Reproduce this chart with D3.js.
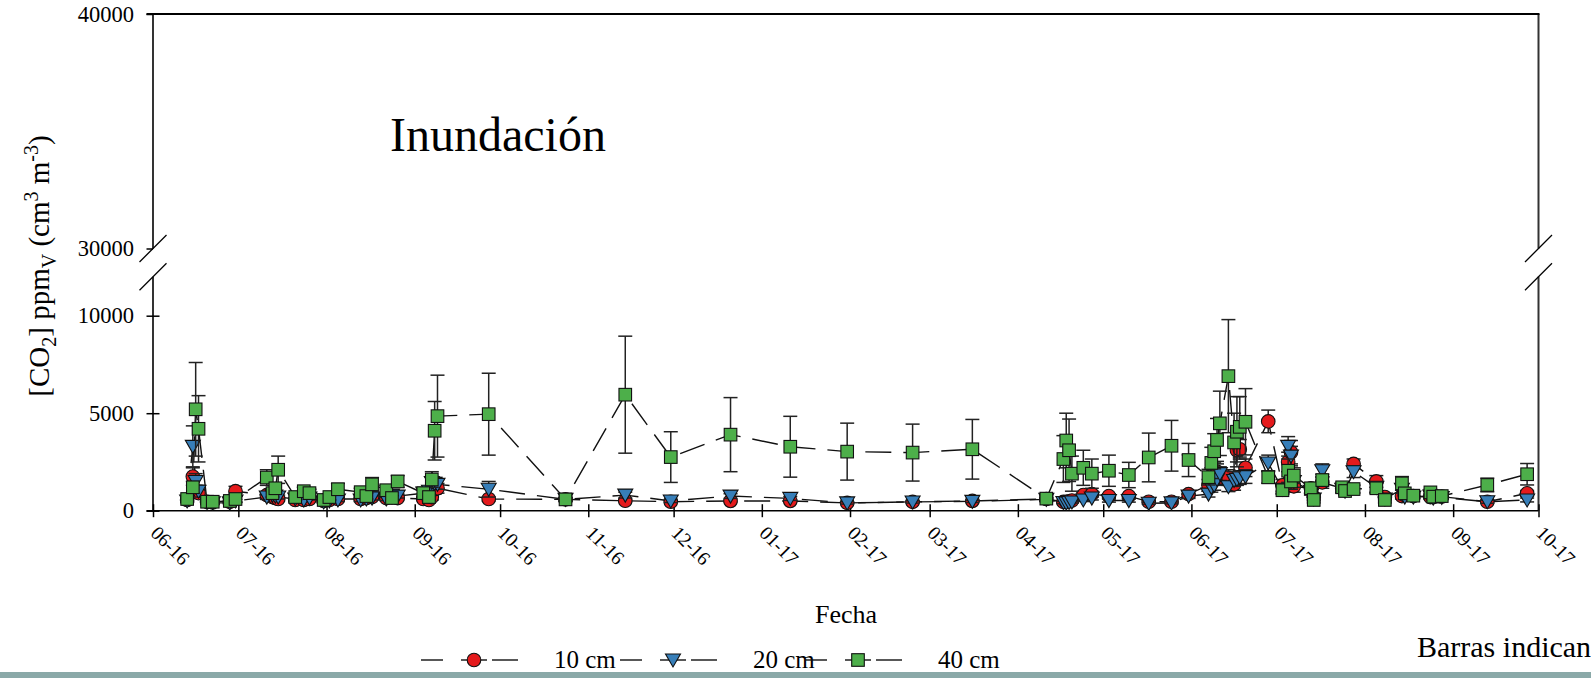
<!DOCTYPE html>
<html><head><meta charset="utf-8">
<script src="https://cdn.jsdelivr.net/npm/d3@7"></script>
<style>
body{margin:0;background:#fff;overflow:hidden}
svg text{font-family:"Liberation Serif","Times New Roman",serif;fill:#000}
</style>
</head><body><svg id="c" width="1591" height="678"></svg>
<script>
// ---------- data ----------
const dates = ["2016-06-13","2016-06-15","2016-06-16","2016-06-17","2016-06-20","2016-06-22","2016-06-28","2016-06-30",
"2016-07-11","2016-07-13","2016-07-14","2016-07-15","2016-07-21","2016-07-24","2016-07-26","2016-07-31",
"2016-08-02","2016-08-05","2016-08-13","2016-08-15","2016-08-17","2016-08-22","2016-08-24","2016-08-26",
"2016-09-04","2016-09-06","2016-09-07","2016-09-08","2016-09-09","2016-09-27",
"2016-10-24","2016-11-14","2016-11-30","2016-12-21",
"2017-01-11","2017-01-31","2017-02-23","2017-03-16",
"2017-04-11","2017-04-17","2017-04-18","2017-04-19","2017-04-20","2017-04-24","2017-04-27",
"2017-05-03","2017-05-10","2017-05-17","2017-05-25","2017-05-31",
"2017-06-07","2017-06-08","2017-06-09","2017-06-10","2017-06-11","2017-06-14","2017-06-16","2017-06-17","2017-06-18","2017-06-20","2017-06-28",
"2017-07-03","2017-07-05","2017-07-06","2017-07-07","2017-07-13","2017-07-14","2017-07-17","2017-07-24","2017-07-25","2017-07-28",
"2017-08-05","2017-08-08","2017-08-14","2017-08-15","2017-08-18","2017-08-24","2017-08-25","2017-08-28",
"2017-09-13","2017-09-27"];

const co2_10cm = [550,1750,1000,900,450,430,450,1000,
800,700,650,600,550,550,600,500,
550,600,600,650,700,650,700,650,
600,550,700,1100,1150,600,
580,510,460,500,
500,400,450,500,
600,450,450,480,520,800,850,
750,750,460,460,850,
1300,1800,2000,2000,1700,1700,1350,3100,3150,2200,4580,
1300,2500,3000,1250,1150,700,1450,1150,1050,2400,
1500,700,750,800,750,700,700,720,
460,890];

const co2_20cm = [500,3300,1500,1000,420,400,400,500,
700,800,750,700,600,550,650,450,
500,550,550,600,650,600,800,750,
900,1000,1450,1400,1350,1100,
580,800,500,750,
630,400,450,480,
580,420,400,420,450,550,650,
520,520,380,400,750,
850,1200,1300,1600,1900,1230,1550,1600,1700,1750,2450,
1100,3300,2800,1500,1000,600,2050,1100,1000,2000,
1200,600,1100,700,700,750,650,680,
460,550];

const co2_40cm = [600,1200,5200,4200,460,460,500,600,
1700,900,1150,2100,700,1000,900,550,
700,1100,950,750,1350,1050,650,1500,
900,700,1600,4100,4850,4950,
580,5950,2750,3900,
3280,3030,2980,3150,
620,2650,3600,3100,1900,2200,1900,
2050,1830,2730,3330,2600,
1720,2450,3050,3630,4480,6900,3500,4050,4300,4560,1710,
1050,2050,1500,1800,1150,550,1570,1200,1010,1110,
1150,550,1400,890,770,940,720,750,
1320,1870];

const err_10cm = [100,450,300,200,60,60,60,250,
150,100,100,100,80,80,80,60,
80,100,80,100,100,80,100,80,
80,80,150,250,250,100,
80,60,50,60,
60,40,50,60,
80,60,60,60,80,120,150,
120,120,60,60,150,
300,400,450,400,350,400,300,600,500,450,580,
300,500,600,300,250,150,300,200,150,250,
300,120,150,150,120,100,100,100,
60,150];

const err_20cm = [80,1050,400,300,60,60,60,80,
120,120,100,100,80,80,100,60,
80,80,80,100,100,80,120,100,
150,150,300,300,250,400,
80,150,80,120,
100,60,60,60,
80,60,60,60,60,80,100,
80,80,50,50,120,
150,250,250,300,350,250,300,300,350,350,400,
200,500,500,300,200,100,350,200,150,300,
250,100,200,120,100,120,100,100,
80,100];

const err_40cm = [150,300,2400,1700,80,80,100,150,
400,200,250,700,150,200,200,100,
150,300,200,150,350,250,120,300,
200,150,400,1500,2100,2100,
120,3000,1300,1900,
1560,1460,1460,1530,
150,1200,1400,1600,900,900,750,
800,650,1250,1300,850,
400,800,900,1100,1650,2900,1500,1800,1550,1700,300,
200,600,400,400,250,150,300,250,200,200,
250,150,350,150,120,150,120,120,
350,550];

const seriesNames = ["10 cm","20 cm","40 cm"];
const xTickLabels = ["06-16","07-16","08-16","09-16","10-16","11-16","12-16","01-17","02-17","03-17","04-17","05-17","06-17","07-17","08-17","09-17","10-17"];
const yTicksLow = [0,5000,10000];
const yTicksHigh = [30000,40000];

// ---------- setup ----------
const FONT = '"Liberation Serif","Times New Roman",serif';
const svg = d3.select("#c");
const parse = d3.utcParse("%Y-%m-%d");
const L = 153, R = 1538.5, B = 510.7, breakLow = 276.7, breakHigh = 248.5, T = 14;

const x = d3.scaleUtc().domain([parse("2016-06-01"), parse("2017-10-01")]).range([L, R]);
const yLow = d3.scaleLinear().domain([0, 12000]).range([B, breakLow]);
const yHigh = d3.scaleLinear().domain([30000, 40000]).range([breakHigh, T]);
const y = v => v <= 12000 ? yLow(v) : yHigh(v);

const tickDates = d3.utcMonth.range(parse("2016-06-01"), d3.utcDay.offset(parse("2017-10-01"),1));

// ---------- axes ----------
const axG = svg.append("g").attr("fill","none").attr("stroke","#000");
const xAxis = d3.axisBottom(x).tickValues(tickDates).tickFormat((d,i)=>xTickLabels[i]).tickSizeOuter(0);
const gx = svg.append("g").attr("transform",`translate(0,${B})`).call(xAxis)
  .attr("font-family",FONT).attr("font-size",19.5);
gx.select(".domain").remove();
gx.append("line").attr("x1",L-6.5).attr("x2",R).attr("stroke","#000").attr("stroke-width",1.6);
gx.selectAll(".tick line").attr("y1",-6.5).attr("y2",6.5).attr("stroke-width",1.5);
gx.selectAll(".tick text").attr("text-anchor","start").attr("y",0).attr("dy",0)
  .attr("transform","translate(-4,23.5) rotate(45)").attr("fill","#000")
  .style("font-family",FONT).style("font-size","19.5px");

const fmt = d3.format("d");
const gyL = svg.append("g").attr("transform",`translate(${L},0)`)
  .call(d3.axisLeft(yLow).tickValues(yTicksLow).tickFormat(fmt).tickSizeOuter(0))
  .attr("font-family",FONT).attr("font-size",22.5);
gyL.select(".domain").remove();
gyL.selectAll(".tick line").attr("x1",-6.5).attr("x2",6.5).attr("stroke-width",1.5);
gyL.selectAll(".tick text").attr("x",-19).attr("fill","#000").style("font-family",FONT).style("font-size","22.5px");
const gyH = svg.append("g").attr("transform",`translate(${L},0)`)
  .call(d3.axisLeft(yHigh).tickValues(yTicksHigh).tickFormat(fmt).tickSizeOuter(0))
  .attr("font-family",FONT).attr("font-size",22.5);
gyH.select(".domain").remove();
gyH.selectAll(".tick line").attr("x1",-6.5).attr("x2",0).attr("stroke-width",1.5);
gyH.selectAll(".tick text").attr("x",-19).attr("fill","#000").style("font-family",FONT).style("font-size","22.5px");

// frame lines
axG.append("line").attr("x1",L).attr("x2",L).attr("y1",T).attr("y2",breakHigh).attr("stroke-width",1.6);
axG.append("line").attr("x1",L).attr("x2",L).attr("y1",breakLow).attr("y2",B).attr("stroke-width",1.6);
axG.append("line").attr("x1",R).attr("x2",R).attr("y1",T).attr("y2",breakHigh).attr("stroke-width",2).attr("stroke","#333");
axG.append("line").attr("x1",R).attr("x2",R).attr("y1",breakLow).attr("y2",B).attr("stroke-width",2).attr("stroke","#333");
axG.append("line").attr("x1",L-6.5).attr("x2",R+1).attr("y1",T).attr("y2",T).attr("stroke-width",1.8);
[[L,breakHigh],[L,breakLow],[R,breakHigh],[R,breakLow]].forEach(([cx,cy])=>{
  axG.append("line").attr("x1",cx-13.5).attr("y1",cy+13.5).attr("x2",cx+13.5).attr("y2",cy-13.5).attr("stroke-width",1.3);
});

// ---------- data marks ----------
const colors = ["#e41a1c","#377eb8","#4daf4a"];
const vals = [co2_10cm, co2_20cm, co2_40cm];
const errs = [err_10cm, err_20cm, err_40cm];
const pts = vals.map((arr,s)=>arr.map((v,i)=>({d:parse(dates[i]), v, e:errs[s][i]})));

const line = d3.line().x(p=>x(p.d)).y(p=>y(p.v));
const marksG = svg.append("g");
pts.forEach((p,s)=>{
  marksG.append("path").attr("d",line(p)).attr("fill","none").attr("stroke","#111")
    .attr("stroke-width",1.4).attr("stroke-dasharray","26,12");
});

function drawMarker(g, s, cx, cy){
  if(s===0) g.append("circle").attr("cx",cx).attr("cy",cy).attr("r",6.8).attr("fill",colors[0]).attr("stroke","#111").attr("stroke-width",1.1);
  else if(s===1) g.append("path").attr("d",`M${cx-7.5},${cy-6}L${cx+7.5},${cy-6}L${cx},${cy+7}Z`).attr("fill",colors[1]).attr("stroke","#111").attr("stroke-width",1.1);
  else g.append("rect").attr("x",cx-6.3).attr("y",cy-6.3).attr("width",12.6).attr("height",12.6).attr("fill",colors[2]).attr("stroke","#111").attr("stroke-width",1.1);
}

pts.forEach((p,s)=>{
  const g = marksG.append("g");
  p.forEach(q=>{
    const cx = x(q.d), y1 = y(q.v+q.e), y2 = y(Math.max(0,q.v-q.e));
    g.append("line").attr("x1",cx).attr("x2",cx).attr("y1",y1).attr("y2",y2).attr("stroke","#222").attr("stroke-width",1.5);
    g.append("line").attr("x1",cx-7).attr("x2",cx+7).attr("y1",y1).attr("y2",y1).attr("stroke","#222").attr("stroke-width",1.5);
    g.append("line").attr("x1",cx-7).attr("x2",cx+7).attr("y1",y2).attr("y2",y2).attr("stroke","#222").attr("stroke-width",1.5);
  });
  p.forEach(q=>drawMarker(g, s, x(q.d), y(q.v)));
});

// ---------- texts ----------
svg.append("text").attr("x",390).attr("y",151).style("font-size","48px").text("Inundación");
svg.append("text").attr("x",846).attr("y",623).attr("text-anchor","middle").style("font-size","26px").text("Fecha");

const yt = svg.append("text").attr("transform","translate(49,266) rotate(-90)").attr("text-anchor","middle").style("font-size","29px");
yt.append("tspan").text("[CO");
yt.append("tspan").attr("dy",7).style("font-size","20px").text("2");
yt.append("tspan").attr("dy",-7).text("] ppm");
yt.append("tspan").attr("dy",7).style("font-size","20px").text("V");
yt.append("tspan").attr("dy",-7).text(" (cm");
yt.append("tspan").attr("dy",-11).style("font-size","20px").text("3");
yt.append("tspan").attr("dy",11).text(" m");
yt.append("tspan").attr("dy",-11).style("font-size","20px").text("-3");
yt.append("tspan").attr("dy",11).text(")");

// legend
const legX = [421, 620, 805];
const lg = svg.append("g");
seriesNames.forEach((n,s)=>{
  const x0 = legX[s], ly = 660;
  lg.append("line").attr("x1",x0).attr("x2",x0+22).attr("y1",ly).attr("y2",ly).attr("stroke","#111").attr("stroke-width",1.4);
  lg.append("line").attr("x1",x0+71).attr("x2",x0+97).attr("y1",ly).attr("y2",ly).attr("stroke","#111").attr("stroke-width",1.4);
  lg.append("line").attr("x1",x0+40).attr("x2",x0+66).attr("y1",ly).attr("y2",ly).attr("stroke","#111").attr("stroke-width",1.4);
  drawMarker(lg, s, x0+53, ly);
  lg.append("text").attr("x",x0+133).attr("y",668).style("font-size","25px").text(n);
});

svg.append("text").attr("x",1417).attr("y",657).style("font-size","30px").text("Barras indican ± error estándar");

// bottom band
svg.append("rect").attr("x",0).attr("y",672).attr("width",1591).attr("height",6).attr("fill","#8aa9a8");
</script>
</body></html>
